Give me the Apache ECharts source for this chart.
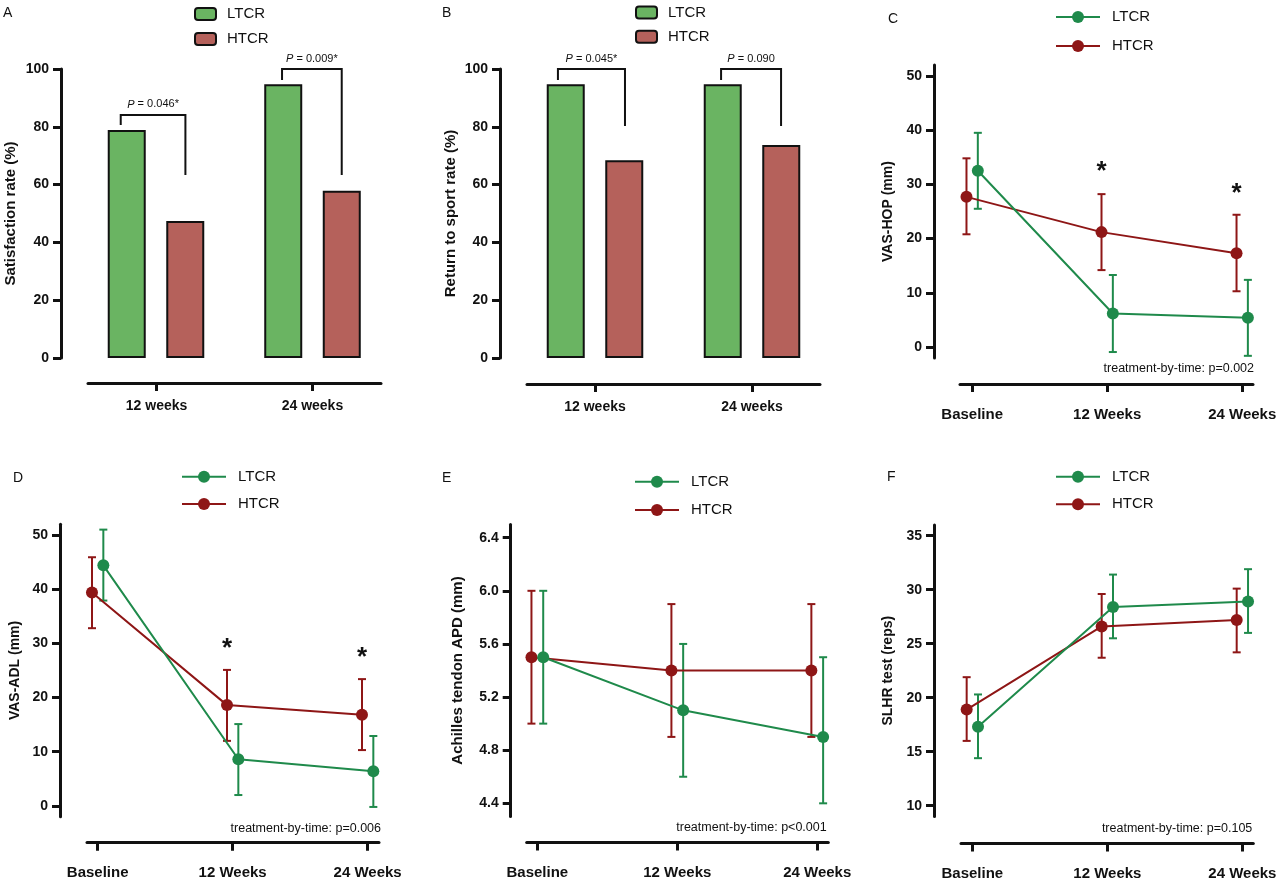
<!DOCTYPE html>
<html>
<head>
<meta charset="UTF-8">
<title>LTCR vs HTCR</title>
<style>
	body{margin:0;background:#fff;}
	.panel{position:absolute;width:430px;height:441px;}
	.wide{width:440px;}
</style>
</head>
<body>
<div class="panel" id="pa" style="left:0;top:0"></div>
<div class="panel" id="pb" style="left:420px;top:0"></div>
<div class="panel wide" id="pc" style="left:840px;top:0"></div>
<div class="panel" id="pd" style="left:0;top:440px"></div>
<div class="panel wide" id="pe" style="left:420px;top:440px"></div>
<div class="panel" id="pf" style="left:850px;top:440px"></div>

<script src="https://cdn.jsdelivr.net/npm/echarts@6/dist/echarts.min.js"></script>
<script>
var FONT = '"Liberation Sans", Arial, Helvetica, sans-serif';
var GREEN_BAR = '#6ab462', RED_BAR = '#b5615b';
var GREEN = '#1f8a4b', RED = '#8e1616';

// bar panels (A, B)
var barCats = ['12 weeks', '24 weeks'];
var barTicks = [0, 20, 40, 60, 80, 100];
var satLTCR = [78.9, 94.7];
var satHTCR = [47.4, 57.9];
var satP = ['0.046*', '0.009*'];
// [x left leg, x right leg, y top, y left end, y right end]
var satBrackets = [[-0.23, 0.185, 84.1, 80.6, 63.3], [0.805, 1.188, 100, 96.2, 63.3]];
var rtsLTCR = [94.7, 94.7];
var rtsHTCR = [68.4, 73.7];
var rtsP = ['0.045*', '0.090'];
var rtsBrackets = [[-0.236, 0.191, 100, 96.2, 80.3], [0.803, 1.185, 100, 96.2, 80.3]];

// line panels (C - F)
var timeCats = ['Baseline', '12 Weeks', '24 Weeks'];

var hopTicks = [0, 10, 20, 30, 40, 50];
var hopLTCR = [32.5, 6.2, 5.4];
var hopLTCRlo = [25.5, -0.9, -1.6];
var hopLTCRhi = [39.5, 13.3, 12.4];
var hopHTCR = [27.7, 21.2, 17.3];
var hopHTCRlo = [20.8, 14.2, 10.3];
var hopHTCRhi = [34.8, 28.2, 24.4];
var hopStars = [[1, 33.6], [2, 29.6]];

var adlTicks = [0, 10, 20, 30, 40, 50];
var adlLTCR = [44.4, 8.6, 6.4];
var adlLTCRlo = [37.9, 2.0, -0.2];
var adlLTCRhi = [51.0, 15.1, 12.9];
var adlHTCR = [39.4, 18.6, 16.8];
var adlHTCRlo = [32.8, 12.0, 10.3];
var adlHTCRhi = [45.9, 25.1, 23.4];
var adlStars = [[1, 30.3], [2, 28.6]];

var apdTicks = [4.4, 4.8, 5.2, 5.6, 6.0, 6.4];
var apdLTCR = [5.5, 5.1, 4.9];
var apdLTCRlo = [5.0, 4.6, 4.4];
var apdLTCRhi = [6.0, 5.6, 5.5];
var apdHTCR = [5.5, 5.4, 5.4];
var apdHTCRlo = [5.0, 4.9, 4.9];
var apdHTCRhi = [6.0, 5.9, 5.9];

var slhrTicks = [10, 15, 20, 25, 30, 35];
var slhrLTCR = [17.3, 28.4, 28.9];
var slhrLTCRlo = [14.4, 25.5, 26.0];
var slhrLTCRhi = [20.3, 31.4, 31.9];
var slhrHTCR = [18.9, 26.6, 27.2];
var slhrHTCRlo = [16.0, 23.7, 24.2];
var slhrHTCRhi = [21.9, 29.6, 30.1];

var BAR_SHIFT = 0.187;   // bar centre distance from the category tick
var JIT = 0.042;         // the two groups are nudged apart on the time axis

function txt(size, weight)
{
	return {fontFamily:FONT, fontSize:size, fontWeight:weight || 'normal', color:'#111'};
}

function axisStyle()
{
	return {show:true, onZero:false, lineStyle:{color:'#111', width:3}};
}

function titles(c)
{
	var list = [{text:c.letter, left:c.letterPos[0], top:c.letterPos[1], padding:0,
		textStyle:Object.assign(txt(14), {lineHeight:14})}];
	if(c.note)
	{
		list.push({text:c.note, right:c.notePos[0], top:c.notePos[1], padding:0,
			textStyle:Object.assign(txt(12.5), {lineHeight:13})});
	}
	return list;
}

function yAxisOf(c)
{
	return {
		type:'value', min:c.yMin, max:c.yMax, offset:c.yOff,
		name:c.yName, nameLocation:'middle', nameGap:c.nameGap, nameMoveOverlap:false,
		nameTextStyle:txt(c.nameSize, 'bold'),
		axisLine:axisStyle(),
		axisTick:{show:true, customValues:c.ticks, length:8, lineStyle:{color:'#111', width:3}},
		axisLabel:Object.assign(txt(14, 'bold'), {customValues:c.ticks, margin:12,
			formatter:function(v){ return c.decimals ? v.toFixed(c.decimals) : String(v); }}),
		splitLine:{show:false}
	};
}

function xAxisOf(c, cats, size, margin)
{
	var idx = cats.map(function(_, i){ return i; });
	return {
		type:'value', min:c.xMin, max:c.xMax, offset:c.xOff,
		axisLine:axisStyle(),
		axisTick:{show:true, customValues:idx, length:8, lineStyle:{color:'#111', width:3}},
		axisLabel:Object.assign(txt(size, 'bold'), {customValues:idx, margin:margin,
			formatter:function(v){ return cats[Math.round(v)]; }}),
		splitLine:{show:false}
	};
}

function barPanel(id, c)
{
	var chart = echarts.init(document.getElementById(id));
	var g = c.grid;
	var option = {
		animation:false,
		title:titles(c),
		legend:{orient:'vertical', left:c.legLeft, top:c.legTop, padding:0, itemGap:c.legGap,
			itemWidth:21, itemHeight:12, selectedMode:false, data:['LTCR', 'HTCR'],
			textStyle:Object.assign(txt(15), {lineHeight:12, padding:[0, 0, 0, 6]})},
		grid:[
			{left:g[0], top:g[1], width:g[2], height:g[3], outerBoundsMode:'none'},
			// bars sit in a twin grid whose category bands are centred on the ticks above
			{left:c.barGrid[0], top:g[1], width:c.barGrid[1], height:g[3], outerBoundsMode:'none'}
		],
		xAxis:[
			xAxisOf(c, barCats, 14, 16),
			{type:'category', gridIndex:1, data:barCats, show:false}
		],
		yAxis:[
			yAxisOf(c),
			{type:'value', gridIndex:1, min:c.yMin, max:c.yMax, show:false}
		],
		series:[
			{type:'bar', name:'LTCR', xAxisIndex:1, yAxisIndex:1, barWidth:38, barGap:'54%', data:c.ltcr,
				itemStyle:{color:GREEN_BAR, borderColor:'#111', borderWidth:2}},
			{type:'bar', name:'HTCR', xAxisIndex:1, yAxisIndex:1, barWidth:38, barGap:'54%', data:c.htcr,
				itemStyle:{color:RED_BAR, borderColor:'#111', borderWidth:2}},
			{type:'custom', name:'p', silent:true, data:c.brackets,
				renderItem:function(params, api)
				{
					var a = api.coord([api.value(0), api.value(3)]);
					var b = api.coord([api.value(0), api.value(2)]);
					var d = api.coord([api.value(1), api.value(2)]);
					var e = api.coord([api.value(1), api.value(4)]);
					return {type:'group', children:[
						{type:'polyline', shape:{points:[a, b, d, e]},
							style:{stroke:'#111', lineWidth:2, fill:null}},
						{type:'text', x:(b[0] + d[0]) / 2, y:b[1] - 5,
							style:{text:'{i|P} = ' + c.pvals[params.dataIndex], align:'center', verticalAlign:'bottom',
								fontFamily:FONT, fontSize:11, fill:'#111',
								rich:{i:{fontStyle:'italic', fontFamily:FONT, fontSize:11, fill:'#111'}}}}
					]};
				}}
		]
	};
	chart.setOption(option);
}

function errBars(name, color, lo, hi, j)
{
	return {type:'custom', name:name, silent:true, z:1,
		data:lo.map(function(v, i){ return [i + j, v, hi[i]]; }),
		renderItem:function(params, api)
		{
			var t = api.coord([api.value(0), api.value(2)]);
			var b = api.coord([api.value(0), api.value(1)]);
			var st = {stroke:color, lineWidth:2};
			return {type:'group', children:[
				{type:'line', shape:{x1:t[0], y1:t[1], x2:b[0], y2:b[1]}, style:st},
				{type:'line', shape:{x1:t[0] - 4, y1:t[1], x2:t[0] + 4, y2:t[1]}, style:st},
				{type:'line', shape:{x1:b[0] - 4, y1:b[1], x2:b[0] + 4, y2:b[1]}, style:st}
			]};
		}};
}

function lineOf(name, color, vals, j)
{
	return {type:'line', name:name, z:3, symbol:'circle', symbolSize:12,
		data:vals.map(function(v, i){ return [i + j, v]; }),
		itemStyle:{color:color}, lineStyle:{color:color, width:2}};
}

function linePanel(id, c)
{
	var chart = echarts.init(document.getElementById(id));
	var series = [
		errBars('LTCR sd', GREEN, c.lLo, c.lHi, JIT),
		errBars('HTCR sd', RED, c.hLo, c.hHi, -JIT),
		lineOf('HTCR', RED, c.h, -JIT),
		lineOf('LTCR', GREEN, c.l, JIT)
	];
	if(c.stars)
	{
		series.push({type:'custom', name:'stars', silent:true, z:4,
			data:c.stars.map(function(s){ return [s[0] - JIT, s[1]]; }),
			renderItem:function(params, api)
			{
				var p = api.coord([api.value(0), api.value(1)]);
				// the asterisk glyph sits high in its box, so nudge the box down
				return {type:'text', x:p[0], y:p[1] + 7,
					style:{text:'*', align:'center', verticalAlign:'middle',
						fontFamily:FONT, fontSize:26, fontWeight:'bold', fill:'#111'}};
			}});
	}
	var option = {
		animation:false,
		title:titles(c),
		legend:{orient:'vertical', left:c.legLeft, top:c.legTop, padding:0, itemGap:c.legGap,
			itemWidth:44, itemHeight:15, selectedMode:false, data:['LTCR', 'HTCR'],
			textStyle:Object.assign(txt(15), {lineHeight:12, padding:[0, 0, 0, 7]})},
		grid:{left:c.grid[0], top:c.grid[1], width:c.grid[2], height:c.grid[3], outerBoundsMode:'none'},
		xAxis:xAxisOf(c, timeCats, 15, 23),
		yAxis:yAxisOf(c),
		series:series
	};
	chart.setOption(option);
}

barPanel('pa', {letter:'A', letterPos:[3, 6], legLeft:194, legTop:6.5, legGap:10,
	grid:[88, 69, 293, 289], barGrid:[77.75, 313], xMin:-0.44, xMax:1.44, xOff:25, yOff:27,
	yMin:0, yMax:100, ticks:barTicks, yName:'Satisfaction rate (%)', nameGap:43, nameSize:15,
	ltcr:satLTCR, htcr:satHTCR, brackets:satBrackets, pvals:satP});

barPanel('pb', {letter:'B', letterPos:[22, 6], legLeft:215, legTop:5, legGap:9.3,
	grid:[107, 69, 293, 289], barGrid:[96.5, 314], xMin:-0.433, xMax:1.433, xOff:26, yOff:27,
	yMin:0, yMax:100, ticks:barTicks, yName:'Return to sport rate (%)', nameGap:42, nameSize:15,
	ltcr:rtsLTCR, htcr:rtsHTCR, brackets:rtsBrackets, pvals:rtsP});

linePanel('pc', {letter:'C', letterPos:[48, 12], note:'treatment-by-time: p=0.002', notePos:[26, 362.5],
	legLeft:215, legTop:9.5, legGap:14,
	grid:[120, 65, 293, 293], xMin:-0.09, xMax:2.08, xOff:26, yOff:26,
	yMin:-2, yMax:52, ticks:hopTicks, yName:'VAS-HOP (mm)', nameGap:39, nameSize:14,
	l:hopLTCR, lLo:hopLTCRlo, lHi:hopLTCRhi, h:hopHTCR, hLo:hopHTCRlo, hHi:hopHTCRhi,
	stars:hopStars});

linePanel('pd', {letter:'D', letterPos:[13, 31], note:'treatment-by-time: p=0.006', notePos:[49, 382.5],
	legLeft:181, legTop:29.2, legGap:12.3,
	grid:[87, 84.2, 292, 292.5], xMin:-0.079, xMax:2.084, xOff:26, yOff:27,
	yMin:-2, yMax:52, ticks:adlTicks, yName:'VAS-ADL (mm)', nameGap:38, nameSize:14,
	l:adlLTCR, lLo:adlLTCRlo, lHi:adlLTCRhi, h:adlHTCR, hLo:adlHTCRlo, hHi:adlHTCRhi,
	stars:adlStars});

linePanel('pe', {letter:'E', letterPos:[22, 31], note:'treatment-by-time: p<0.001', notePos:[33.3, 381.5],
	legLeft:214, legTop:34.2, legGap:13.3,
	grid:[106.7, 84.4, 301.6, 292.2], xMin:-0.076, xMax:2.079, xOff:26, yOff:16,
	yMin:4.3, yMax:6.5, ticks:apdTicks, decimals:1, yName:'Achilles tendon APD (mm)', nameGap:45, nameSize:15,
	l:apdLTCR, lLo:apdLTCRlo, lHi:apdLTCRhi, h:apdHTCR, hLo:apdHTCRlo, hHi:apdHTCRhi});

linePanel('pf', {letter:'F', letterPos:[37, 30], note:'treatment-by-time: p=0.105', notePos:[27.7, 382.5],
	legLeft:205, legTop:29.2, legGap:12.6,
	grid:[111, 84.9, 292.3, 291.6], xMin:-0.084, xMax:2.081, xOff:27, yOff:27,
	yMin:9, yMax:36, ticks:slhrTicks, yName:'SLHR test (reps)', nameGap:39, nameSize:14,
	l:slhrLTCR, lLo:slhrLTCRlo, lHi:slhrLTCRhi, h:slhrHTCR, hLo:slhrHTCRlo, hHi:slhrHTCRhi});
</script>
</body>
</html>
